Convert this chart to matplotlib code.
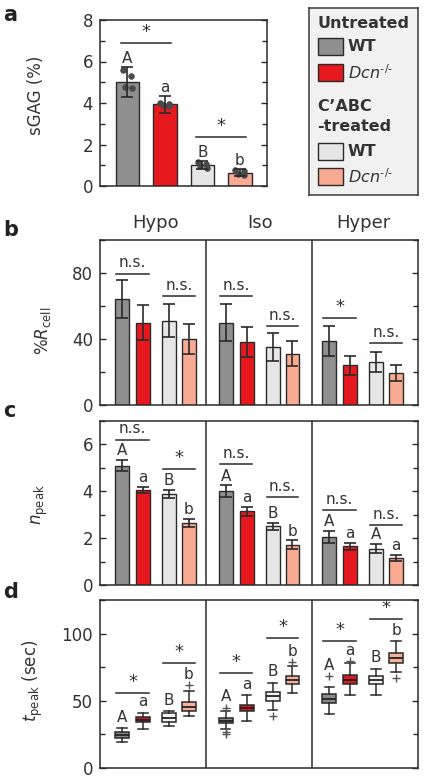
import matplotlib
matplotlib.use('Agg')
import matplotlib.pyplot as plt
import numpy as np

plt.rcParams['font.family'] = ['DejaVu Sans']
plt.rcParams['mathtext.fontset'] = 'dejavusans'

# ---------------- data ----------------
groups = ['Hypo', 'Iso', 'Hyper']
conditions = ['WT', 'Dcn-/-', 'WT C\u2019ABC', 'Dcn-/- C\u2019ABC']

# panel a: sGAG (%)
a_mean = [5.0, 3.93, 1.0, 0.65]
a_err = [0.73, 0.4, 0.2, 0.15]
a_points = [[5.6, 5.3, 4.75, 4.7],
            [4.0, 3.95, 3.9, 3.85],
            [1.15, 1.05, 0.95, 0.85],
            [0.75, 0.7, 0.6, 0.55]]
a_letters = ['A', 'a', 'B', 'b']
a_sig_y = [6.88, 2.38]
a_sig_lab = ['*', '*']

# panel b: %R_cell
b_mean = [[64, 50, 51, 40], [50, 38, 35, 31], [39, 24, 26, 19.5]]
b_err = [[11.5, 10.5, 10, 9], [11, 9, 8.5, 7.5], [9, 6, 6, 5]]
b_sig_y = [[79.6, 65.8], [65.8, 47.6], [52.7, 37.5]]
b_sig_lab = [['n.s.', 'n.s.'], ['n.s.', 'n.s.'], ['*', 'n.s.']]

# panel c: n_peak
c_mean = [[5.1, 4.07, 3.88, 2.65], [4.0, 3.15, 2.5, 1.72], [2.05, 1.65, 1.55, 1.15]]
c_err = [[0.22, 0.13, 0.18, 0.18], [0.25, 0.2, 0.15, 0.18], [0.25, 0.14, 0.2, 0.13]]
c_letters = [['A', 'a', 'B', 'b'], ['A', 'a', 'B', 'b'], ['A', 'a', 'A', 'a']]
c_sig_y = [[6.2, 4.96], [5.17, 3.75], [3.18, 2.56]]
c_sig_lab = [['n.s.', '*'], ['n.s.', 'n.s.'], ['n.s.', 'n.s.']]

# panel d: t_peak (sec) box statistics
d_med = [[24.5, 36, 37.5, 45.7], [35.3, 44.4, 53.4, 65.6], [51.3, 65.6, 65.6, 82.1]]
d_q1 = [[22.5, 34, 34.4, 42.4], [33.2, 42.4, 49.9, 62.4], [48.2, 62.6, 62.6, 78.1]]
d_q3 = [[27, 37.7, 40.7, 49], [37.4, 46.9, 56.9, 68.6], [54.9, 68.9, 68.1, 85.6]]
d_wlo = [[19.5, 28.7, 31.2, 38.9], [29, 35.2, 43.2, 55.7], [40.2, 54.4, 54.4, 71.4]]
d_whi = [[29.5, 41.2, 42.4, 57.4], [42.7, 54.4, 63.6, 76.1], [60.2, 78.1, 73.9, 94.3]]
d_fliers = [[[], [], [], [61.9]],
            [[44.9, 26.9, 25.0], [], [38.9], [78.9]],
            [[68.1], [79.5], [], [66.9]]]
d_letters = [['A', 'a', 'B', 'b'], ['A', 'a', 'B', 'b'], ['A', 'a', 'B', 'b']]
d_sig_y = [[55.7, 78.1], [70.6, 96.8], [94.3, 110.5]]
d_sig_lab = [['*', '*'], ['*', '*'], ['*', '*']]

# ---------------- style ----------------
colors = ['#8f8f8f', '#e8181f', '#e6e6e6', '#f8ab92']
box_colors = ['#8a8a8a', '#d81820', '#f2f2f2', '#f6b09a']
edge = '#2a2a2a'
txt = '#333333'
group_step = 0.977
offsets = [0.209, 0.406, 0.651, 0.839]
bw = 0.132

fig = plt.figure(figsize=(4.24, 7.79), dpi=100)


def px_axes(l, t, r, b):
    return fig.add_axes([l / 424, 1 - b / 779, (r - l) / 424, (b - t) / 779])


def style_axes(ax, major, minor, ylim):
    ax.set_ylim(*ylim)
    ax.set_yticks(major)
    ax.set_yticks(minor, minor=True)
    ax.tick_params(axis='y', which='both', direction='in', left=True, right=True,
                   labelsize=12, labelcolor=txt, color=edge, width=1)
    ax.tick_params(axis='y', which='major', length=4.5, pad=5)
    ax.tick_params(axis='y', which='minor', length=3.5)
    ax.set_xticks([])
    for s in ax.spines.values():
        s.set_color(edge)
        s.set_linewidth(1.1)


def sig(ax, x1, x2, y, lab, ext):
    ax.plot([x1 - ext, x2 + ext], [y, y], color=edge, lw=1.1, zorder=5)
    if lab == '*':
        ax.annotate(lab, ((x1 + x2) / 2, y), xytext=(0, 1.5), textcoords='offset points',
                    ha='center', va='bottom', fontsize=13, color=txt)
    else:
        ax.annotate(lab, ((x1 + x2) / 2, y), xytext=(0, 4.5), textcoords='offset points',
                    ha='center', va='baseline', fontsize=11, color=txt)


def letter(ax, x, y, lab, off=4):
    ax.annotate(lab, (x, y), xytext=(0, off), textcoords='offset points',
                ha='center', va='baseline', fontsize=11, color=txt)


# ---------------- panel a ----------------
axa = px_axes(100, 20, 267, 186)
xa = np.arange(len(a_mean))
axa.bar(xa, a_mean, width=0.62, color=colors, edgecolor=edge, linewidth=1, zorder=2)
axa.errorbar(xa, a_mean, yerr=a_err, fmt='none', ecolor=edge, elinewidth=1.2,
             capsize=4, capthick=1.2, zorder=4)
jitter = [-0.12, 0.1, -0.06, 0.12]
for i, pts in enumerate(a_points):
    axa.scatter(xa[i] + np.array(jitter), pts, s=22, color='#4a4a4a', zorder=3, linewidths=0)
for i, lab in enumerate(a_letters):
    letter(axa, xa[i], max(a_mean[i] + a_err[i], max(a_points[i])), lab, off=3)
for k in range(2):
    sig(axa, xa[2 * k], xa[2 * k + 1], a_sig_y[k], a_sig_lab[k], 0.16)
axa.set_xlim(-0.73, 3.72)
style_axes(axa, [0, 2, 4, 6, 8], [1, 3, 5, 7], (0, 8))
axa.set_ylabel('sGAG (%)', fontsize=12, color=txt)
axa.yaxis.set_label_coords(-0.33, 0.548)

# ---------------- legend ----------------
axl = px_axes(309, 8, 418, 195)
axl.set_xlim(0, 109)
axl.set_ylim(187, 0)
axl.set_xticks([])
axl.set_yticks([])
axl.set_facecolor('#f1f1f1')
for s in axl.spines.values():
    s.set_color('#3a3a3a')
    s.set_linewidth(1.1)
leg_rows = [('head', 'Untreated', 15.3), ('item', 0, 38.4), ('item', 1, 64.5),
            ('head', 'C\u2019ABC', 98.7), ('head', '-treated', 118.7),
            ('item', 2, 143.0), ('item', 3, 168.7)]
leg_labels = ['WT', r'$\mathit{Dcn}^{\text{-/-}}$', 'WT', r'$\mathit{Dcn}^{\text{-/-}}$']
for kind, v, yc in leg_rows:
    if kind == 'head':
        axl.text(8.5, yc, v, fontsize=11.5, fontweight='bold', color=txt, va='center', ha='left')
    else:
        axl.add_patch(plt.Rectangle((8.7, yc - 8.5), 25.6, 17, facecolor=colors[v],
                                    edgecolor=edge, linewidth=1))
        axl.text(39, yc, leg_labels[v], fontsize=11.5, color=txt, va='center', ha='left',
                 fontweight='bold' if v in (0, 2) else 'normal')

# ---------------- panels b, c, d ----------------
axb = px_axes(100, 240, 418, 405)
axc = px_axes(100, 421, 418, 585)
axd = px_axes(100, 600, 418, 768)

pos = [[group_step * g + o for o in offsets] for g in range(len(groups))]

for ax, mean, err in [(axb, b_mean, b_err), (axc, c_mean, c_err)]:
    for g in range(len(groups)):
        ax.bar(pos[g], mean[g], width=bw, color=colors, edgecolor=edge, linewidth=1, zorder=2)
        ax.errorbar(pos[g], mean[g], yerr=err[g], fmt='none', ecolor=edge, elinewidth=1.2,
                    capsize=4.5, capthick=1.2, zorder=4)

for g in range(len(groups)):
    for k in range(2):
        sig(axb, pos[g][2 * k], pos[g][2 * k + 1], b_sig_y[g][k], b_sig_lab[g][k], 0.055)
        sig(axc, pos[g][2 * k], pos[g][2 * k + 1], c_sig_y[g][k], c_sig_lab[g][k], 0.055)
        sig(axd, pos[g][2 * k], pos[g][2 * k + 1], d_sig_y[g][k], d_sig_lab[g][k], 0.055)
    for i in range(4):
        letter(axc, pos[g][i], c_mean[g][i] + c_err[g][i], c_letters[g][i], off=3.5)

# box plots
stats = []
positions = []
for g in range(len(groups)):
    for i in range(4):
        stats.append(dict(med=d_med[g][i], q1=d_q1[g][i], q3=d_q3[g][i],
                          whislo=d_wlo[g][i], whishi=d_whi[g][i], fliers=d_fliers[g][i]))
        positions.append(pos[g][i])
bp = axd.bxp(stats, positions=positions, widths=bw, capwidths=0.09, patch_artist=True,
             showfliers=True, manage_ticks=False,
             boxprops=dict(edgecolor=edge, linewidth=1.1),
             medianprops=dict(color='#222222', linewidth=1.3),
             whiskerprops=dict(color=edge, linewidth=1.1),
             capprops=dict(color=edge, linewidth=1.1),
             flierprops=dict(marker='+', markeredgecolor='#555555', markersize=6, markeredgewidth=1))
for j, patch in enumerate(bp['boxes']):
    patch.set_facecolor(box_colors[j % 4])
for g in range(len(groups)):
    for i in range(4):
        top = max([d_whi[g][i]] + list(d_fliers[g][i]))
        letter(axd, pos[g][i], top, d_letters[g][i], off=4.5)

for ax in (axb, axc, axd):
    ax.set_xlim(0, 3)
    for xv in (1, 2):
        ax.axvline(xv, color=edge, lw=1.1, zorder=1)

style_axes(axb, [0, 40, 80], [20, 60, 100], (0, 100))
style_axes(axc, [0, 2, 4, 6], [1, 3, 5, 7], (0, 7))
style_axes(axd, [0, 50, 100], [25, 75, 125], (0, 125))

axb.set_ylabel(r'%$\mathit{R}_{\mathrm{cell}}$', fontsize=12, color=txt)
axb.yaxis.set_label_coords(-0.148, 0.45)
axc.set_ylabel(r'$\mathit{n}_{\mathrm{peak}}$', fontsize=12, color=txt)
axc.yaxis.set_label_coords(-0.157, 0.49)
axd.set_ylabel(r'$\mathit{t}_{\mathrm{peak}}$ (sec)', fontsize=12, color=txt)
axd.yaxis.set_label_coords(-0.173, 0.52)

for g, name in enumerate(groups):
    xc = (pos[g][1] + pos[g][2]) / 2
    axb.text(xc, 1.103, name, transform=axb.get_xaxis_transform(), ha='center', va='center',
             fontsize=13, color=txt)

# panel letters
for lab, ypx in [('a', 15), ('b', 230), ('c', 411), ('d', 592)]:
    fig.text(3 / 424, 1 - ypx / 779, lab, fontsize=15, fontweight='bold', color='#222222',
             ha='left', va='center')

fig.savefig('out.png', dpi=100)
